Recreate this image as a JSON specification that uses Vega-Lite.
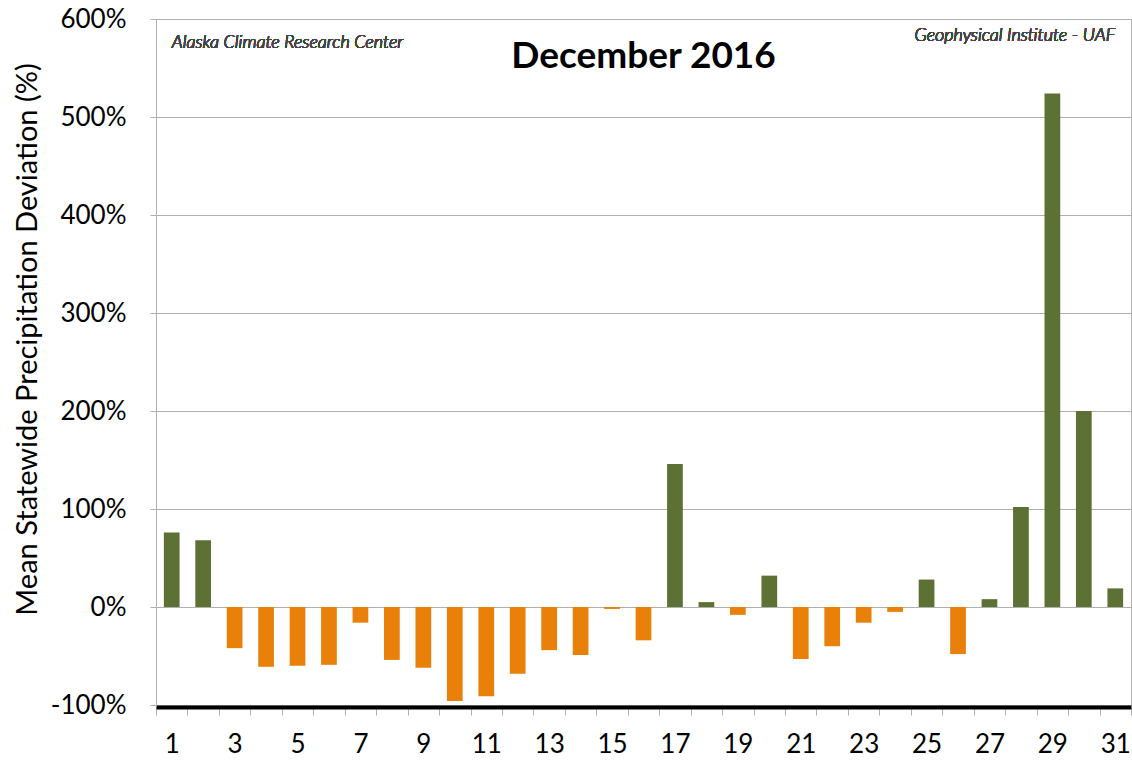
{
  "$schema": "https://vega.github.io/schema/vega-lite/v6.json",
  "width": 975,
  "height": 686,
  "autosize": "none",
  "padding": {"left": 156, "top": 19, "right": 1, "bottom": 58},
  "background": "white",
  "config": {
    "font": "Lato",
    "view": {"stroke": "#b0b0b0", "strokeWidth": 1}
  },
  "title": {
    "text": "December 2016",
    "font": "Lato",
    "fontSize": 37,
    "fontWeight": "bold",
    "color": "black",
    "anchor": "middle",
    "baseline": "top",
    "dy": 74
  },
  "data": {
    "values": [
      {"day": 1, "value": 76},
      {"day": 2, "value": 68},
      {"day": 3, "value": -42},
      {"day": 4, "value": -61},
      {"day": 5, "value": -60},
      {"day": 6, "value": -59},
      {"day": 7, "value": -16},
      {"day": 8, "value": -54},
      {"day": 9, "value": -62},
      {"day": 10, "value": -96},
      {"day": 11, "value": -91},
      {"day": 12, "value": -68},
      {"day": 13, "value": -44},
      {"day": 14, "value": -49},
      {"day": 15, "value": -2},
      {"day": 16, "value": -34},
      {"day": 17, "value": 146},
      {"day": 18, "value": 5},
      {"day": 19, "value": -8},
      {"day": 20, "value": 32},
      {"day": 21, "value": -53},
      {"day": 22, "value": -40},
      {"day": 23, "value": -16},
      {"day": 24, "value": -5},
      {"day": 25, "value": 28},
      {"day": 26, "value": -48},
      {"day": 27, "value": 8},
      {"day": 28, "value": 102},
      {"day": 29, "value": 524},
      {"day": 30, "value": 200},
      {"day": 31, "value": 19}
    ]
  },
  "layer": [
    {
      "mark": {"type": "bar", "width": {"band": 0.5}},
      "encoding": {
        "x": {
          "field": "day",
          "type": "ordinal",
          "scale": {"paddingInner": 0, "paddingOuter": 0},
          "axis": {
            "title": null,
            "labelAngle": 0,
            "labelExpr": "datum.value % 2 == 1 ? datum.label : ''",
            "labelFontSize": 26,
            "labelColor": "black",
            "labelPadding": 16,
            "tickBand": "extent",
            "tickColor": "#b0b0b0",
            "tickSize": 8,
            "domainColor": "black",
            "domainWidth": 4,
            "offset": 2,
            "grid": false
          }
        },
        "y": {
          "field": "value",
          "type": "quantitative",
          "scale": {"domain": [-100, 600], "nice": false},
          "axis": {
            "values": [-100, 0, 100, 200, 300, 400, 500, 600],
            "labelExpr": "datum.value + '%'",
            "labelFontSize": 26,
            "labelColor": "black",
            "labelPadding": 24,
            "tickColor": "#b0b0b0",
            "tickSize": 6,
            "domainColor": "#b0b0b0",
            "gridColor": "#b0b0b0",
            "grid": true,
            "title": "Mean Statewide Precipitation Deviation (%)",
            "titleFontSize": 29,
            "titleFontWeight": "normal",
            "titleColor": "black",
            "titleX": -129,
            "titleY": 320,
            "titleAngle": 270,
            "titleBaseline": "middle"
          }
        },
        "color": {
          "condition": {"test": "datum.value >= 0", "value": "#5e7134"},
          "value": "#e8800a"
        }
      }
    },
    {
      "mark": {"type": "text", "font": "Lato", "fontStyle": "italic", "fontWeight": 300, "fontSize": 18, "color": "#444444", "align": "left", "baseline": "middle"},
      "encoding": {
        "x": {"datum": 1, "type": "ordinal"},
        "y": {"datum": 576, "type": "quantitative"},
        "text": {"value": "Alaska Climate Research Center"}
      }
    },
    {
      "mark": {"type": "text", "font": "Lato", "fontStyle": "italic", "fontWeight": 300, "fontSize": 18, "color": "#444444", "align": "right", "baseline": "middle"},
      "encoding": {
        "x": {"datum": 31, "type": "ordinal"},
        "y": {"datum": 583, "type": "quantitative"},
        "text": {"value": "Geophysical Institute - UAF"}
      }
    }
  ]
}
